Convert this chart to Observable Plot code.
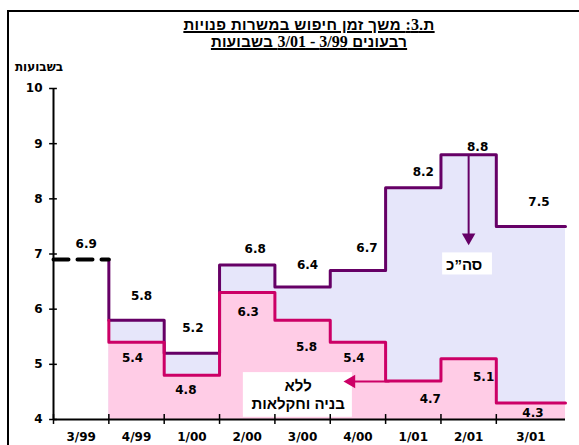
<!DOCTYPE html>
<html><head><meta charset="utf-8">
<script src="https://cdn.jsdelivr.net/npm/d3@7"></script>
<script src="https://cdn.jsdelivr.net/npm/@observablehq/plot@0.6"></script>
<style>
body{margin:0;background:#fff;}
#wrap{position:relative;width:579px;height:445px;overflow:hidden;background:#fff;}
#frame{position:absolute;left:7px;top:10px;width:600px;height:460px;border:2px solid #000;box-sizing:border-box;}
.title{position:absolute;left:0;width:618px;text-align:center;direction:rtl;font:bold 15px "Liberation Sans";text-decoration:underline;text-decoration-thickness:1.5px;line-height:16px;height:16px;white-space:nowrap;}
.title .n{font-family:"Liberation Serif";font-size:16px;letter-spacing:0;}
#ylab{position:absolute;left:10px;width:58px;top:60px;text-align:center;direction:rtl;font:bold 12px "DejaVu Sans";}
#chart{position:absolute;left:0;top:0;}
</style></head>
<body>
<div id="wrap">
  <div id="frame"></div>
  <div class="title" style="top:17px;letter-spacing:0.4px">ת.<span class="n">3:</span> משך זמן חיפוש במשרות פנויות</div>
  <div class="title" style="top:34px;letter-spacing:0.3px">רבעונים  <span class="n">3/99 - 3/01</span> בשבועות</div>
  <div id="ylab">בשבועות</div>
  <div id="chart"></div>
</div>
<script>
const quarters = ["3/99","4/99","1/00","2/00","3/00","4/00","1/01","2/01","3/01"];
const total = [6.9, 5.8, 5.2, 6.8, 6.4, 6.7, 8.2, 8.8, 7.5];
const excl  = [null, 5.4, 4.8, 6.3, 5.8, 5.4, 4.7, 5.1, 4.3];
const yTicks = [4, 5, 6, 7, 8, 9, 10];
const xEnd = 9.25;

// label placement offsets (pixels), as hand-placed in the original
const totalDx = [5, 5, 1, 8, 5, 9, 10, 9, 8];
const totalDy = [-15, -24, -25, -16, -22, -22, -16, -8, -24];
const exclDx = [0, -4, -6, 1, 4, -4, 17, 15, 2];
const exclDy = [0, 16, 15, 20, 27, 16, 18, 18, 10];

const noteText = ["סה”כ", "ללא\nבניה וחקלאות"];
const noteX = [7.42, 4.42];
const noteY = [6.81, 4.45];
const noteBoxX1 = [7.03, 3.43];
const noteBoxX2 = [7.93, 5.40];
const noteBoxY1 = [6.62, 4.04];
const noteBoxY2 = [7.02, 4.85];
const arrowX1 = [7.5, 6.07];
const arrowX2 = [7.5, 5.38];
const arrowY1 = [8.8, 4.69];
const arrowY2 = [7.3, 4.69];
const arrowRotate = [180, -90];
const purple = "#660066", pink = "#cc0066";
const arrowColor = [purple, pink];

const idx = d3.range(1, quarters.length);
const stepsOf = arr => idx.map(i => ({x: i, y: arr[i]})).concat([{x: xEnd, y: arr[quarters.length - 1]}]);
const totalSteps = stepsOf(total);
const exclSteps = stepsOf(excl);
const totalLine = [{x: 1, y: total[0]}].concat(totalSteps);
const exclLine = [{x: 1, y: total[1]}].concat(exclSteps);
const dashed = [{x: 0, y: total[0]}, {x: 1, y: total[0]}];
const mid = i => i < quarters.length - 1 ? i + 0.5 : (i + xEnd) / 2;
const totalLabels = quarters.map((q, i) => ({x: mid(i), y: total[i], dx: totalDx[i], dy: totalDy[i]}));
const exclLabels = quarters.map((q, i) => ({x: mid(i), y: excl[i], dx: exclDx[i], dy: exclDy[i]})).filter(d => d.y != null);
const notes = noteText.map((t, i) => ({t, x: noteX[i], y: noteY[i], x1: noteBoxX1[i], x2: noteBoxX2[i], y1: noteBoxY1[i], y2: noteBoxY2[i]}));
const arrows = arrowX1.map((d, i) => ({x1: d, x2: arrowX2[i], y1: arrowY1[i], y2: arrowY2[i], r: arrowRotate[i], c: arrowColor[i]}));

const labelMarks = (data) => data.map(d => Plot.text([d], {x: "x", y: "y", text: v => v.y.toFixed(1), dx: d.dx, dy: d.dy}));

const plot = Plot.plot({
  width: 579, height: 445,
  marginLeft: 53, marginRight: 14, marginTop: 88, marginBottom: 26,
  x: {domain: [0, xEnd]},
  y: {domain: [4, 10]},
  style: {background: "transparent", fontFamily: "DejaVu Sans", fontSize: "12px", fontWeight: "bold", color: "#000"},
  marks: [
    Plot.areaY(totalSteps, {x: "x", y1: 4, y2: "y", curve: "step-after", fill: "#e6e6fa"}),
    Plot.areaY(exclSteps, {x: "x", y1: 4, y2: "y", curve: "step-after", fill: "#ffcce6"}),
    Plot.rect(notes, {x1: "x1", x2: "x2", y1: "y1", y2: "y2", fill: "white"}),
    Plot.line(totalLine, {x: "x", y: "y", curve: "step-after", stroke: purple, strokeWidth: 3}),
    Plot.line(exclLine, {x: "x", y: "y", curve: "step-after", stroke: pink, strokeWidth: 3}),
    Plot.line(dashed, {x: "x", y: "y", stroke: "#000", strokeWidth: 4, strokeDasharray: "15,9"}),
    Plot.link(arrows, {x1: "x1", x2: "x2", y1: "y1", y2: "y2", stroke: "c", strokeWidth: 2}),
    Plot.dot(arrows, {x: "x2", y: "y2", symbol: "triangle", rotate: "r", fill: "c", r: 5, stroke: null}),
    Plot.ruleX([0], {y1: 4, y2: 10, stroke: "#000", strokeWidth: 2}),
    Plot.ruleY([4], {x1: 0, x2: xEnd, stroke: "#000", strokeWidth: 2}),
    Plot.ruleY(yTicks, {x1: -0.07, x2: 0.07, stroke: "#000", strokeWidth: 1.5}),
    Plot.ruleX(d3.range(0, quarters.length), {y1: 3.91, y2: 4.09, stroke: "#000", strokeWidth: 1.5}),
    Plot.axisY({ticks: yTicks, tickSize: 0, tickPadding: 11, label: null, tickFormat: d => String(d)}),
    Plot.axisX({ticks: quarters.map((q, i) => mid(i)), tickSize: 0, tickPadding: 13, label: null,
      tickFormat: d => quarters[Math.floor(d)]}),
    ...labelMarks(totalLabels),
    ...labelMarks(exclLabels),
    Plot.text(notes, {x: "x", y: "y", text: "t", fontFamily: "Liberation Sans", fontSize: 15, fontWeight: "bold", lineHeight: 1.2})
  ]
});
document.getElementById("chart").appendChild(plot);
</script>
</body></html>
